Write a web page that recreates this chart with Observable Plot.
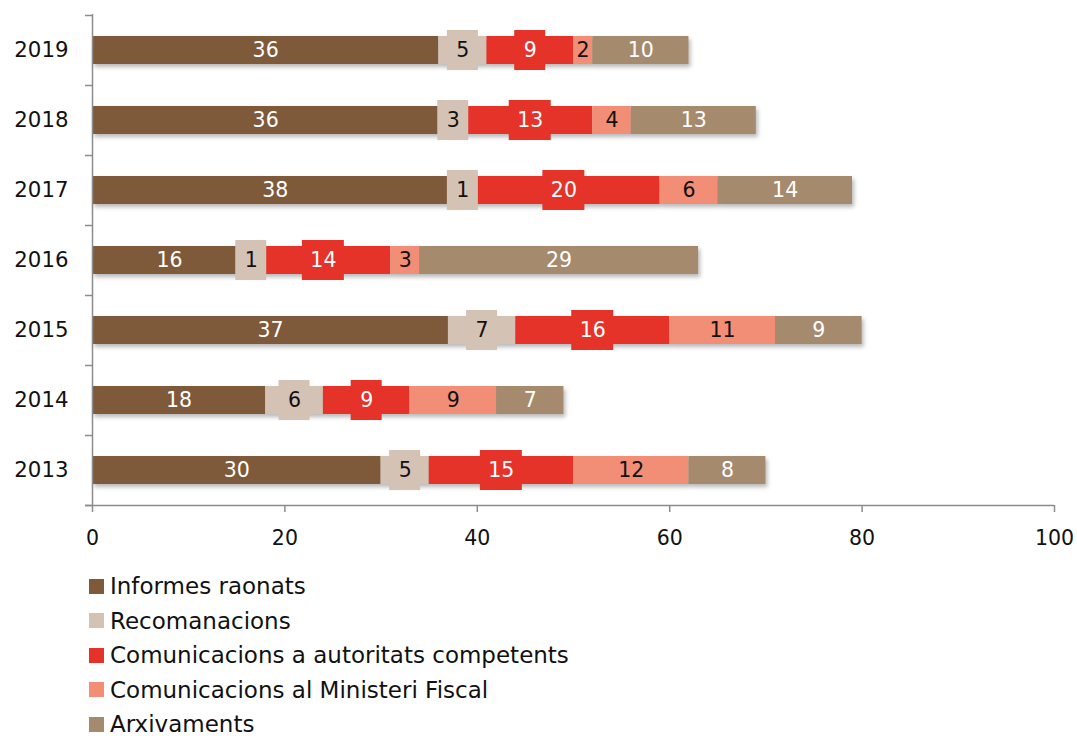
<!DOCTYPE html>
<html>
<head>
<meta charset="utf-8">
<script src="https://cdn.jsdelivr.net/npm/d3@7"></script>
<script src="https://cdn.jsdelivr.net/npm/@observablehq/plot@0.6"></script>
<style>
  body { margin: 0; background: #fff; font-family: "DejaVu Sans", sans-serif; }
  #legend { margin: 9px 0 0 89px; }
  .item { display: flex; align-items: center; height: 34.5px; font-size: 23px; color: #111; }
  .sw { width: 15px; height: 15px; margin-right: 6px; flex: none; }
</style>
</head>
<body>
<div id="chart"></div>
<div id="legend"></div>
<script>
const years = ["2019", "2018", "2017", "2016", "2015", "2014", "2013"];
const series = ["Informes raonats", "Recomanacions", "Comunicacions a autoritats competents", "Comunicacions al Ministeri Fiscal", "Arxivaments"];
const colors = ["#7f5a3a", "#d4c2b4", "#e5332a", "#f28d76", "#a68a6d"];
const textColors = ["#fff", "#111", "#fff", "#111", "#fff"];
const informes      = [36, 36, 38, 16, 37, 18, 30];
const recomanacions = [5, 3, 1, 1, 7, 6, 5];
const autoritats    = [9, 13, 20, 14, 16, 9, 15];
const fiscal        = [2, 4, 6, 3, 11, 9, 12];
const arxivaments   = [10, 13, 14, 29, 9, 7, 8];
const xTicks = [0, 20, 40, 60, 80, 100];

const values = [informes, recomanacions, autoritats, fiscal, arxivaments];
const rows = [];
years.forEach((year, i) => {
  let acc = 0;
  values.forEach((arr, s) => {
    const v = arr[i];
    rows.push({year, series: series[s], s, value: v, start: acc, end: acc + v, mid: acc + v / 2, label: String(v)});
    acc += v;
  });
});
const boxed = rows.filter(d => d.s === 1 || d.s === 2);
const box1 = boxed.filter(d => d.label.length === 1);
const box2 = boxed.filter(d => d.label.length > 1);

const fontFamily = '"DejaVu Sans", sans-serif';
const axisColor = "#8c8c8c";

const chart = Plot.plot({
  width: 1077,
  height: 560,
  marginLeft: 92,
  marginRight: 23,
  marginTop: 14,
  marginBottom: 55,
  style: {fontFamily, fontSize: "20.5px", color: "#111", background: "#fff"},
  x: {domain: [0, 100], ticks: xTicks},
  y: {domain: years, padding: 0},
  color: {domain: series, range: colors},
  marks: [
    Plot.barX(rows, {x1: "start", x2: "end", y: "year", fill: "series", insetTop: 21, insetBottom: 21,
      imageFilter: "drop-shadow(2px 3px 2px rgba(0,0,0,0.28))"}),
    Plot.barX(box1, {x1: "mid", x2: "mid", y: "year", fill: "series", insetTop: 15, insetBottom: 15, insetLeft: -15.5, insetRight: -15.5}),
    Plot.barX(box2, {x1: "mid", x2: "mid", y: "year", fill: "series", insetTop: 15, insetBottom: 15, insetLeft: -21, insetRight: -21}),
    Plot.text(rows, {x: "mid", y: "year", text: "label", fill: d => textColors[d.s], fontSize: 20.5}),
    Plot.ruleX([0], {stroke: axisColor, strokeWidth: 1.5}),
    Plot.ruleY(years.slice(-1), {y: d => d, dy: 35, stroke: axisColor, strokeWidth: 1.5, insetLeft: -7}),
    Plot.axisX({ticks: xTicks, tickSize: 7, tickPadding: 18, stroke: axisColor, strokeWidth: 1.5, color: "#111", label: null, tickFormat: d => d}),
    Plot.axisY({tickSize: 7, stroke: axisColor, strokeWidth: 1.5, dy: 35, tickFormat: null, label: null}),
    Plot.axisY({ticks: years.slice(0, 1), tickSize: 7, stroke: axisColor, strokeWidth: 1.5, dy: -35, tickFormat: null, label: null}),
    Plot.axisY({tickSize: 0, tickPadding: 24, label: null, fill: "#111", fontSize: 21.3})
  ]
});
document.getElementById("chart").appendChild(chart);

const legend = document.getElementById("legend");
series.forEach((s, i) => {
  const it = document.createElement("div");
  it.className = "item";
  const sw = document.createElement("span");
  sw.className = "sw";
  sw.style.background = colors[i];
  const t = document.createElement("span");
  t.textContent = s;
  it.appendChild(sw); it.appendChild(t);
  legend.appendChild(it);
});
</script>
</body>
</html>
